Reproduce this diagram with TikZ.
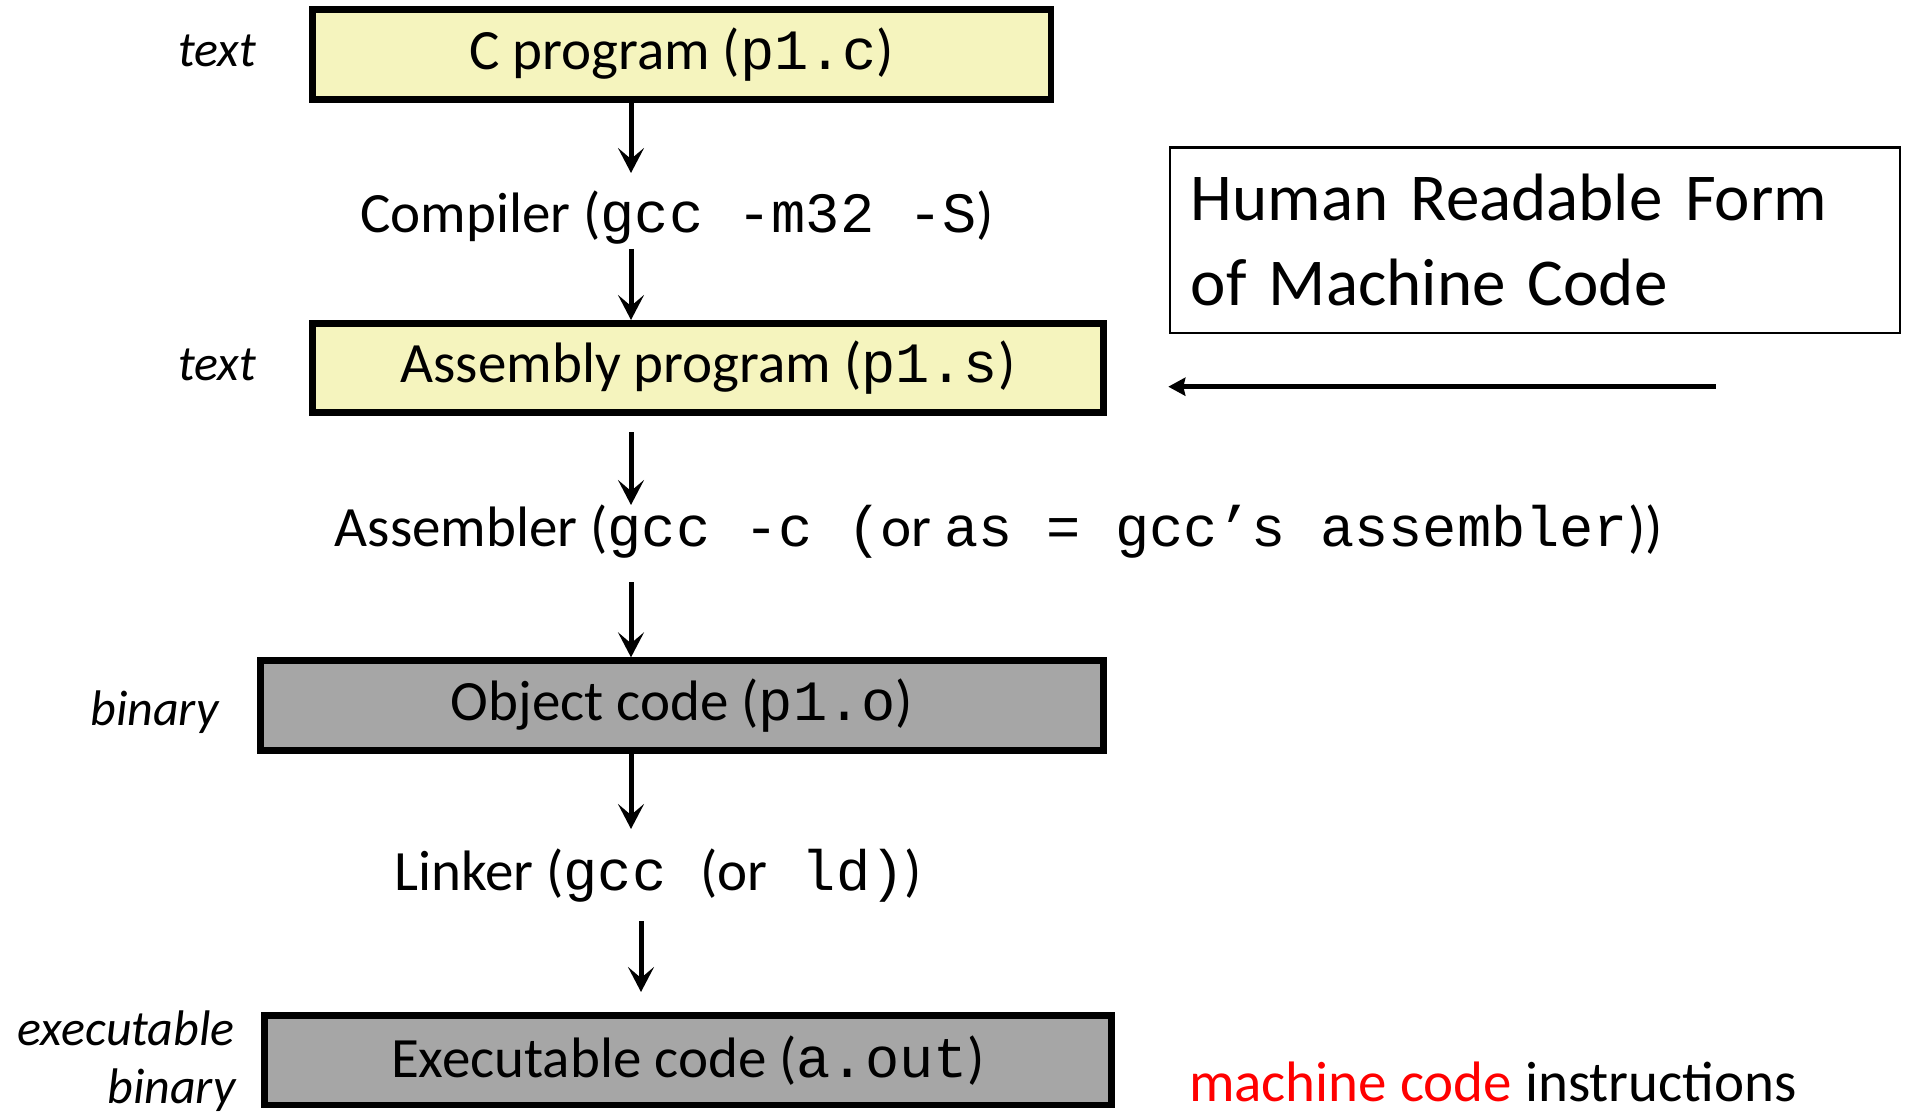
\documentclass[tikz,border=0pt]{standalone}
\usepackage{fontspec}
\setmainfont{Carlito}
\setmonofont{Liberation Mono}
\usetikzlibrary{arrows.meta}
\definecolor{boxyellow}{HTML}{F5F4BE}
\definecolor{boxgray}{HTML}{A6A6A6}
\newcommand\boxfont{\fontsize{57}{68}\selectfont}
\newcommand\sidefont{\fontsize{50}{60}\selectfont\itshape}
\newcommand\hrfont{\fontsize{67}{85}\selectfont}
\begin{document}
\begin{tikzpicture}[x=1pt,y=1pt,
  stagebox/.style={draw=black, line width=6.7pt, inner sep=0pt, font=\boxfont},
  textstage/.style={stagebox, fill=boxyellow},
  binstage/.style={stagebox, fill=boxgray},
  tool/.style={inner sep=0pt, font=\boxfont, anchor=base west},
  kind/.style={inner sep=0pt, font=\sidefont, anchor=base east},
  flow/.style={line width=5pt, -{Stealth[length=25pt,width=26pt,inset=11pt]}},
  pointer/.style={line width=5.5pt, -{Stealth[length=17pt,width=18pt,inset=2pt]}}]

\fill[white] (0,0) rectangle (1908,-1115);
\useasboundingbox (0,0) rectangle (1908,-1115);

% translation stages
\node[textstage, minimum width=738.3pt, minimum height=90pt] (b1) at (681.8,-54.3)
  {C program ({\ttfamily p1.c})};
\node[textstage, minimum width=790.7pt, minimum height=89.3pt] (b2) at (708,-368)
  {Assembly program ({\ttfamily p1.s})};
\node[binstage, minimum width=842.7pt, minimum height=90pt] (b3) at (682,-705.7)
  {Object code ({\ttfamily p1.o})};
\node[binstage, minimum width=847.3pt, minimum height=89.3pt] (b4) at (688,-1060.3)
  {Executable code ({\ttfamily a.out})};

% tools between the stages
\node[tool] (comp) at (360,-233) {Compiler ({\ttfamily gcc -m32 -S})};
\node[tool] (asm) at (334.6,-546.7)
  {Assembler ({\ttfamily gcc -c (}or {\ttfamily as = gcc’s assembler}))};
\node[tool] (link) at (394,-890.7)
  {Linker ({\ttfamily gcc }(or{\ttfamily\ ld)})};

% kind of file at each stage
\node[kind] (k1) at (256.5,-66.7) {text};
\node[kind] (k2) at (256.5,-380) {text};
\node[kind] (k3) at (219,-725) {binary};
\node[kind] (k4a) at (234.8,-1045) {executable};
\node[kind] (k4b) at (236,-1103) {binary};

% note on the assembly stage
\node[draw=black, line width=2.5pt, minimum width=730.4pt, minimum height=185.8pt,
      text width=688.4pt, inner xsep=21pt, align=left, font=\hrfont] (hr) at (1535,-240.2)
  {Human Readable Form\\of Machine Code};
\node[tool] (mc) at (1188.8,-1101.7) {\textcolor{red}{machine code} instructions};

% arrow ends
\coordinate (t1) at (631,-173);
\coordinate (s2) at (631,-249);
\coordinate (s3) at (631,-432);
\coordinate (t3) at (631,-505);
\coordinate (s4) at (631,-582);
\coordinate (t5) at (631,-829);
\coordinate (s6) at (641,-921);
\coordinate (t6) at (641,-992);
\coordinate (ps) at (1715.7,-386.7);
\coordinate (pt) at (1168.3,-386.7);

\draw[flow] (b1.south -| t1) -- (t1);
\draw[flow] (s2) -- (b2.north -| s2);
\draw[flow] (s3) -- (t3);
\draw[flow] (s4) -- (b3.north -| s4);
\draw[flow] (b3.south -| t5) -- (t5);
\draw[flow] (s6) -- (t6);
\draw[pointer] (ps) -- (pt);
\end{tikzpicture}
\end{document}
